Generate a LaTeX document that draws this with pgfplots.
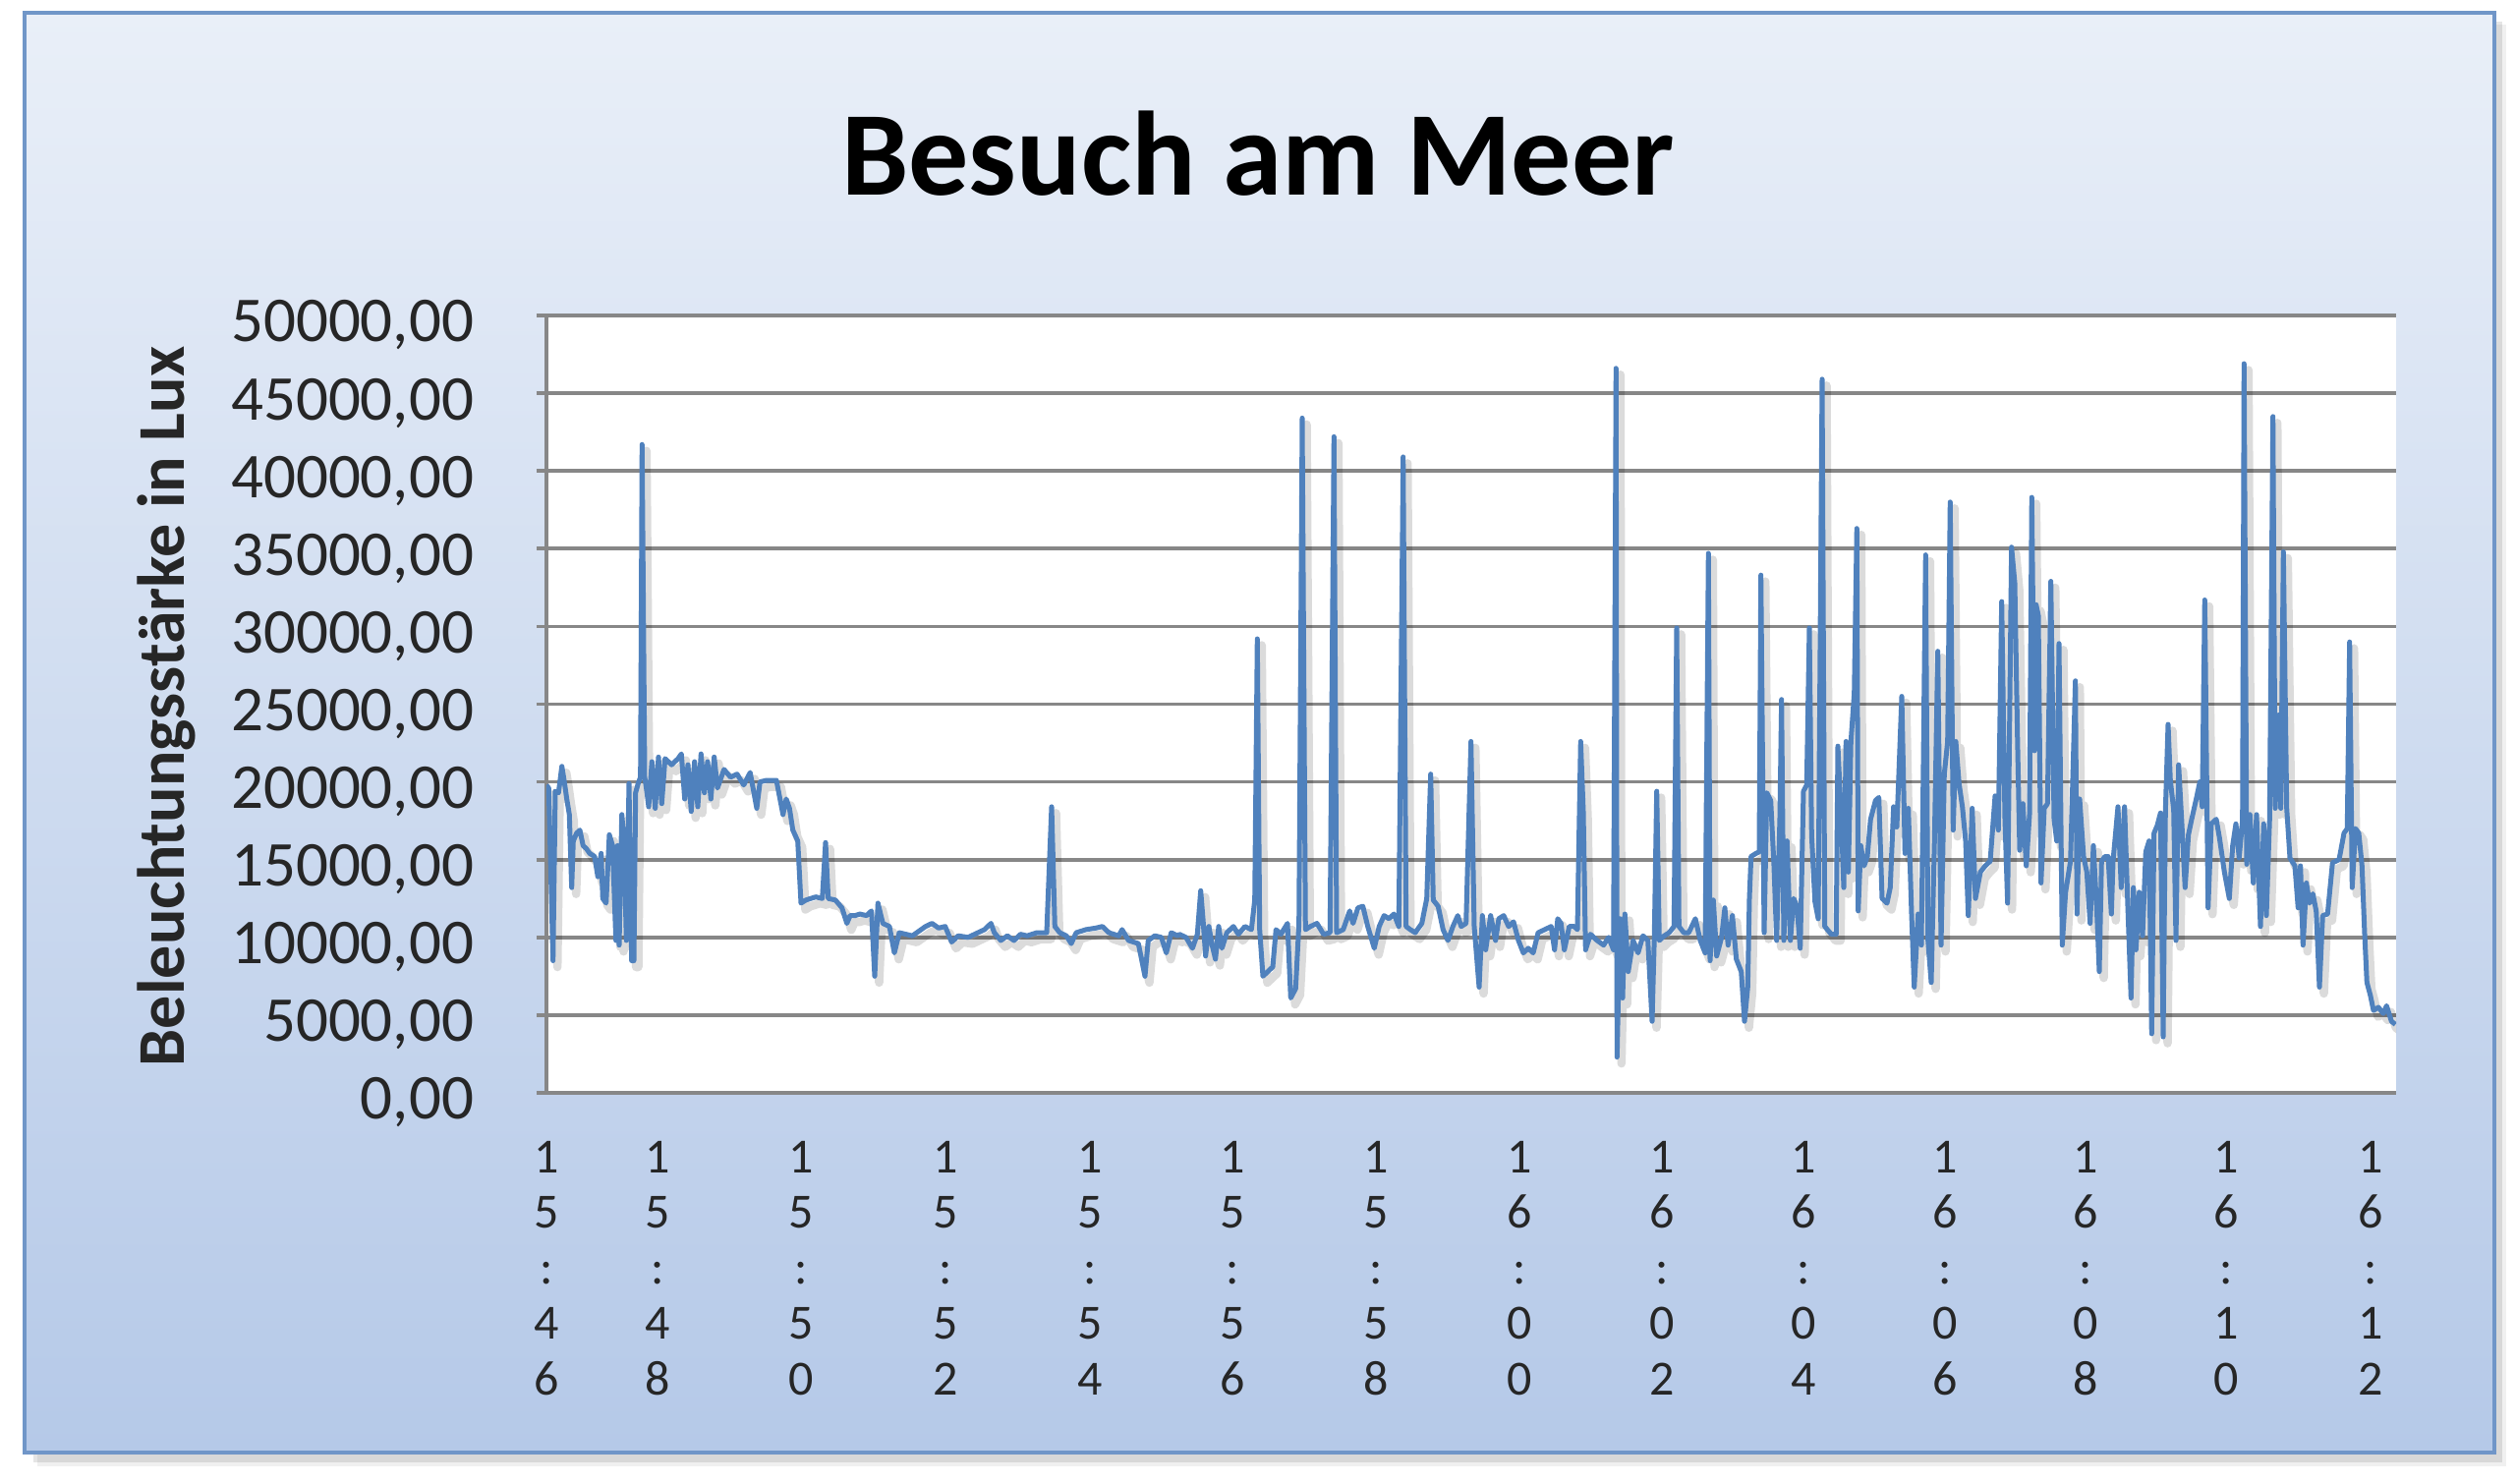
\documentclass[border=0pt]{standalone}
\usepackage{fontspec}
\setmainfont{Carlito}
\usepackage{pgfplots}
\usepackage{pgfplotstable}
\pgfplotsset{compat=1.18}
\definecolor{linecol}{HTML}{4F81BD}
\definecolor{gridcol}{HTML}{878787}
\definecolor{bgtop}{HTML}{E9EFF8}
\definecolor{bgbot}{HTML}{B5C9E8}
\definecolor{boxborder}{HTML}{7096C8}
\definecolor{textcol}{HTML}{262626}
\pgfplotstableread{
x y
556 19800
558.3 19600
562.7 8500
565 19400
568.3 19300
571.7 21000
574 20100
576.7 18900
579.3 17900
581.7 13200
583.3 16200
586.7 16700
590 16900
593.3 15900
596.7 15700
600 15400
605 15200
608.3 13900
611.7 15400
613.3 12500
616.7 12200
620 16600
623.3 15900
626.7 9800
628.3 15900
630 9500
632.7 17900
635 16200
637.3 9800
640 19900
642.7 8500
645 8500
646.7 19300
649.3 19900
651.7 20300
653.3 41700
656 20300
658.3 19300
660 18400
663.3 21300
666.7 18300
670 21600
673.3 18600
676.7 21500
683.3 21100
690 21500
693.3 21800
696.7 18900
700 21100
703.3 18100
706.7 21300
710 18400
713.3 21800
716.7 19300
720 21300
723.3 18900
726.7 21600
730 19600
736.7 20800
743.3 20300
750 20500
756.7 19800
763.3 20600
770 18300
773.3 20000
780 20100
790 20100
796.7 17900
800 18900
803.3 18300
806.7 16900
811.7 16200
815 12200
820 12400
830 12600
836.7 12500
840 16100
842.7 12500
850 12400
856.7 11900
861.7 10900
865 11400
870 11400
875 11500
881.7 11400
886.7 11700
890 7500
893.3 12200
898.3 10900
905 10700
910 9000
915 10300
921.7 10200
928.3 10100
935 10400
941.7 10700
948.3 10900
955 10600
961.7 10700
968.3 9700
975 10100
985 10000
995 10300
1001.7 10500
1008.3 10900
1011.7 10300
1018.3 9800
1025 10100
1031.7 9800
1038.3 10200
1045 10100
1055 10300
1065 10300
1070 18400
1073.3 10700
1078.3 10300
1085 10100
1090 9600
1095 10300
1105 10500
1115 10600
1121.7 10700
1128.3 10300
1138.3 10100
1141.7 10500
1148.3 9800
1158.3 9600
1165 7500
1168.3 9800
1175 10100
1181.7 10000
1186.7 9000
1191.7 10300
1198.3 10100
1200 10200
1206.7 10000
1213.3 9300
1218.3 10200
1221.7 13000
1224 11200
1226.7 8800
1230 10700
1233.3 9500
1236.7 8600
1240 10700
1243.3 9300
1248.3 10300
1255 10700
1260 10200
1266.7 10700
1273.3 10500
1276.7 12400
1279.3 29200
1281.7 10500
1285 7500
1290 7800
1295 8100
1298.3 10500
1303.3 10200
1310 10900
1313.3 6100
1318.3 6700
1321.7 10900
1325 43400
1328.3 10500
1333.3 10700
1340 10900
1346.7 10200
1353.3 10300
1357.3 42200
1360 10300
1366.7 10500
1373.3 11700
1376.7 10900
1381.7 11900
1386.7 12000
1391.7 10700
1398.3 9300
1403.3 10700
1408.3 11400
1413.3 11200
1418.3 11500
1423.3 10700
1427.7 40900
1430.7 10700
1435 10500
1440 10300
1446.7 10900
1451.7 12500
1455.7 20500
1458.3 12400
1463.3 12000
1468.3 10500
1473.3 9800
1478.3 10700
1483.3 11400
1486.7 10700
1491.7 10900
1496.7 22600
1500 10700
1505 6800
1508.3 11400
1511.7 9200
1516.7 11400
1521.7 9800
1525 11200
1530 11400
1535 10700
1540 11000
1545 9800
1550 9000
1555 9300
1560 9000
1565 10300
1571.7 10500
1578.3 10700
1581.7 9200
1585 11200
1588.3 10900
1591.7 9200
1596.7 10700
1601.7 10700
1605 10500
1608.3 22600
1611 18100
1613.3 9200
1618.3 10200
1625 9800
1631.7 9500
1636.7 10000
1641.7 9200
1644.3 46600
1645.3 2300
1648.3 11200
1651 6100
1653.3 11500
1656.7 7800
1661.7 9800
1666.7 9000
1671.7 10100
1676.7 9800
1681 4600
1683.3 10100
1685.7 19400
1688.3 9800
1693.3 10100
1698.3 10300
1703.3 10700
1706 29900
1708.3 10700
1713.3 10300
1718.3 10300
1725 11200
1730 9800
1735 9000
1738.3 34700
1740 8500
1743.3 12400
1746.7 8800
1751.7 10000
1755 11900
1758.3 9500
1762.7 11400
1766.7 8600
1771.7 7800
1775 4600
1778.3 6800
1780 12500
1781.7 15200
1786.7 15400
1790 15500
1791.7 33300
1795 10300
1797.7 19300
1801.7 18800
1805 14600
1807.7 9800
1811 17700
1812.7 25300
1815 9800
1818.3 16200
1821.7 9800
1825 12500
1828.3 12000
1831.7 9300
1835 19400
1838.3 19800
1841 29900
1843.3 16600
1846.7 12300
1850 11200
1854 45900
1856.7 10700
1863.3 10200
1868.3 10200
1870 22300
1873.3 17900
1876 13200
1878.3 22600
1880.7 14200
1883.3 22600
1886.7 25700
1889.3 36300
1890.7 11700
1893.3 15900
1896.7 14600
1900 15200
1903.3 17600
1908.3 18800
1911.7 19000
1915 12500
1920 12200
1923.3 13200
1926.7 18400
1930 17100
1935 25500
1938.3 15400
1941.7 18300
1945 11500
1947.7 6800
1951.7 11500
1955 9500
1959.3 34600
1961.7 9800
1965 7100
1968.3 16200
1971.7 28400
1975 9500
1978.3 20500
1981.7 22600
1984.3 38000
1987.3 16900
1990 22600
1993.3 19900
1996.7 18400
2000 16200
2002.7 11400
2006.7 18300
2010 12500
2015 14200
2020 14600
2025 14900
2030 19100
2033.3 16900
2036.7 31600
2040 17600
2042.7 12200
2046.7 35100
2050 32800
2052.7 23000
2055 15600
2058.3 18600
2061.7 14600
2065 17900
2067.3 38300
2070 22000
2071.7 31400
2074 30700
2076.7 13500
2080 18300
2083.3 18600
2086.7 32900
2090 17600
2092.7 16200
2095 28900
2098.3 9500
2101.7 12900
2106.7 14900
2111.7 26500
2113.3 11500
2116 18900
2120 15200
2123.3 14200
2126.7 10900
2130 15900
2133.3 12000
2136 7800
2138.3 14900
2141.7 15200
2145 15200
2148.3 11500
2150 14900
2155 18400
2158.3 13200
2161.7 18400
2165 12000
2168.3 6100
2170.7 13200
2173.3 9200
2176.7 12900
2180 10100
2183.3 15500
2186.7 16200
2189.3 3800
2191.7 16700
2195 17200
2198.3 18000
2201 3600
2203.3 18100
2206 23700
2208.3 20100
2211.7 18200
2214 9800
2216.7 21100
2220 17300
2223.3 13200
2226.7 16600
2230 17600
2235 19000
2238.3 20000
2240.7 18400
2243.3 31700
2246.7 11900
2250 17300
2255 17600
2258.3 16400
2263.3 14200
2268.3 12500
2271.7 15900
2275 17300
2278.3 15100
2281.7 17500
2283.3 46900
2286 14700
2289.3 17900
2292.7 13500
2296 17900
2300 10700
2303.3 17300
2306 11400
2309.3 17600
2312.7 43500
2315 18300
2318.3 24300
2320.7 18300
2323.3 34800
2326.7 18300
2330 15100
2335 14600
2338.3 11900
2340.7 14600
2343.3 9500
2346.7 13500
2350 12200
2353.3 12800
2356.7 11700
2360 6800
2363.3 11400
2368.3 11500
2373.3 14800
2380 15000
2385 16700
2388.3 17000
2390.7 29000
2393.3 13200
2396.7 17000
2400 16700
2403.3 14600
2406 10200
2408.3 7100
2411.7 6300
2415 5300
2420 5500
2425 5100
2428.3 5600
2433.3 4600
2437.3 4400
}\luxdata

\begin{document}
\begin{tikzpicture}
\path[use as bounding box] (0,0) rectangle (512pt,302pt);
\fill[black,opacity=0.10] (6.8pt,4.4pt) rectangle (509.2pt,297.6pt);
\fill[black,opacity=0.06] (7.6pt,3.6pt) rectangle (510pt,297pt);
\shade[top color=bgtop,bottom color=bgbot] (5pt,6.4pt) rectangle (507.6pt,299.4pt);
\draw[boxborder,line width=0.8pt] (5pt,6.4pt) rectangle (507.6pt,299.4pt);
\node[anchor=base,font=\fontsize{24.4}{28}\selectfont\bfseries] at (256pt,262.2pt) {Besuch am Meer};
\node[rotate=90,font=\fontsize{13.6}{15}\selectfont\bfseries,text=textcol] at (33.8pt,158.2pt) {Beleuchtungsstärke in Lux};
\begin{axis}[
  at={(111.2pt,79.6pt)}, anchor=south west,
  scale only axis, width=376.4pt, height=158.2pt,
  xmin=556, xmax=2438, ymin=0, ymax=50000,
  ytick={0,5000,...,50000},
  scaled y ticks=false,
  xtick={556,669,815,962.5,1109,1254,1400,1546,1691,1835,1979,2122.5,2265,2412.5},
  xticklabels={{1\\5\\:\\4\\6},{1\\5\\:\\4\\8},{1\\5\\:\\5\\0},{1\\5\\:\\5\\2},{1\\5\\:\\5\\4},{1\\5\\:\\5\\6},{1\\5\\:\\5\\8},{1\\6\\:\\0\\0},{1\\6\\:\\0\\2},{1\\6\\:\\0\\4},{1\\6\\:\\0\\6},{1\\6\\:\\0\\8},{1\\6\\:\\1\\0},{1\\6\\:\\1\\2}},
  xticklabel style={align=center, font=\fontsize{10}{11.3}\selectfont, inner sep=0pt, yshift=-7.6pt, text=textcol},
  x tick style={draw=none},
  ymajorgrids, grid style={gridcol, line width=0.75pt},
  axis x line*=bottom, axis y line*=left,
  axis line style={gridcol, line width=0.75pt},
  y tick style={gridcol, line width=0.75pt},
  tick align=outside, major tick length=2pt,
  yticklabel style={font=\fontsize{13}{15}\selectfont, inner sep=0pt, xshift=-12.6pt, yshift=-2pt, text=textcol},
  /pgf/number format/.cd, fixed, fixed zerofill, precision=2, use comma, 1000 sep={}, assume math mode=true,
  /pgfplots/.cd,
  axis background/.style={fill=white},
]
\addplot[no marks, black, opacity=0.14, line width=1.7pt, line join=round, transform canvas={xshift=0.9pt,yshift=-1.3pt}] table[x=x,y=y]{\luxdata};
\addplot[no marks, linecol, line width=1pt, line join=round] table[x=x,y=y]{\luxdata};
\end{axis}
\end{tikzpicture}
\end{document}
